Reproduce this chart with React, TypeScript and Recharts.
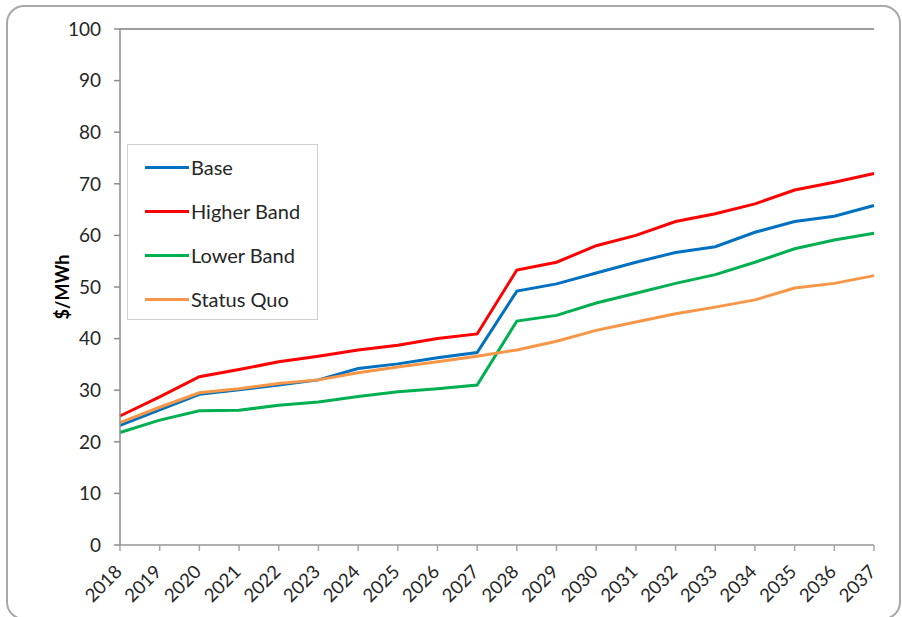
import React from 'react';
import {
  LineChart,
  Line,
  XAxis,
  YAxis,
  CartesianGrid,
  Legend,
  ReferenceLine,
} from 'recharts';

const years = [
  '2018', '2019', '2020', '2021', '2022', '2023', '2024', '2025', '2026', '2027',
  '2028', '2029', '2030', '2031', '2032', '2033', '2034', '2035', '2036', '2037',
];

const base = [
  23.2, 26.2, 29.2, 30.1, 31.0, 32.0, 34.2, 35.1, 36.3, 37.3,
  49.2, 50.6, 52.7, 54.8, 56.7, 57.8, 60.6, 62.7, 63.7, 65.8,
];
const higherBand = [
  25.0, 28.7, 32.6, 34.0, 35.5, 36.6, 37.8, 38.7, 40.0, 40.9,
  53.3, 54.8, 58.0, 60.0, 62.7, 64.2, 66.1, 68.8, 70.3, 72.0,
];
const lowerBand = [
  21.8, 24.2, 26.0, 26.1, 27.1, 27.7, 28.8, 29.7, 30.3, 31.0,
  43.4, 44.5, 46.9, 48.8, 50.7, 52.4, 54.8, 57.4, 59.1, 60.4,
];
const statusQuo = [
  23.7, 26.7, 29.5, 30.3, 31.3, 32.0, 33.4, 34.5, 35.5, 36.6,
  37.8, 39.5, 41.6, 43.2, 44.8, 46.1, 47.5, 49.8, 50.7, 52.2,
];

const yTicks = [0, 10, 20, 30, 40, 50, 60, 70, 80, 90, 100];

const seriesDefs = [
  { key: 'base', name: 'Base', color: '#0070C0' },
  { key: 'higher', name: 'Higher Band', color: '#FF0000' },
  { key: 'lower', name: 'Lower Band', color: '#00B050' },
  { key: 'status', name: 'Status Quo', color: '#F79646' },
];

const data = years.map((year, i) => ({
  year,
  base: base[i],
  higher: higherBand[i],
  lower: lowerBand[i],
  status: statusQuo[i],
}));

const FONT = 'Lato, "Open Sans", sans-serif';
const TEXT = '#262626';

function YearTick(props: any) {
  const { x, y, payload } = props;
  const ax = x + 3;
  const ay = y + 20;
  return (
    <text
      x={ax}
      y={ay}
      transform={`rotate(-45, ${ax}, ${ay})`}
      textAnchor="end"
      fontSize={18.5}
      fontFamily={FONT}
      fill={TEXT}
    >
      {payload.value}
    </text>
  );
}

function LegendBox() {
  return (
    <div
      style={{
        width: 191,
        height: 176,
        boxSizing: 'border-box',
        border: '1px solid #d0d0d0',
        background: '#ffffff',
      }}
    >
      {seriesDefs.map((s) => (
        <div
          key={s.key}
          style={{
            height: 44,
            display: 'flex',
            alignItems: 'center',
            paddingLeft: 17,
          }}
        >
          <div style={{ width: 44, height: 3, background: s.color, marginRight: 2 }} />
          <span style={{ fontFamily: FONT, fontSize: 20, color: TEXT, lineHeight: '22px' }}>
            {s.name}
          </span>
        </div>
      ))}
    </div>
  );
}

function AxisTitle(props: any) {
  const { viewBox } = props;
  const cx = 62;
  const cy = viewBox.y + viewBox.height / 2;
  return (
    <text
      x={cx}
      y={cy}
      transform={`rotate(-90, ${cx}, ${cy})`}
      textAnchor="middle"
      dominantBaseline="central"
      fontSize={18}
      fontWeight="bold"
      fontFamily={FONT}
      fill="#000"
    >
      $/MWh
    </text>
  );
}

export default function App() {
  return (
    <div
      style={{
        position: 'absolute',
        left: 0,
        top: 0,
        width: 902,
        height: 617,
        overflow: 'hidden',
        background: '#ffffff',
      }}
    >
      <div
        style={{
          position: 'absolute',
          left: 6,
          top: 5,
          width: 895,
          height: 615,
          boxSizing: 'border-box',
          border: '2px solid #a8a8a8',
          borderRadius: 18,
        }}
      />
      <div style={{ position: 'absolute', left: 0, top: 0 }}>
        <LineChart
          width={902}
          height={617}
          data={data}
          margin={{ top: 29, right: 28, bottom: 0, left: 0 }}
        >
          <CartesianGrid vertical={false} stroke="#bcbcbc" strokeWidth={1.5} />
          <XAxis
            dataKey="year"
            interval={0}
            height={72}
            tick={<YearTick />}
            tickSize={6}
            tickMargin={2}
            axisLine={{ stroke: '#a6a6a6', strokeWidth: 1.5 }}
            tickLine={{ stroke: '#a6a6a6', strokeWidth: 1.5 }}
          />
          <YAxis
            yAxisId="left"
            width={120}
            domain={[0, 100]}
            ticks={yTicks}
            interval={0}
            tickSize={6}
            tickMargin={13}
            tick={{ fontSize: 19, fontFamily: FONT, fill: TEXT }}
            axisLine={{ stroke: '#8c8c8c', strokeWidth: 1.5 }}
            tickLine={{ stroke: '#8c8c8c', strokeWidth: 1.5 }}
            label={<AxisTitle />}
          />
          <YAxis
            yAxisId="right"
            orientation="right"
            width={0}
            domain={[0, 100]}
            tick={false}
            tickLine={false}
            axisLine={{ stroke: '#8c8c8c', strokeWidth: 1.5 }}
          />
          <ReferenceLine yAxisId="left" y={100} stroke="#8c8c8c" strokeWidth={1.5} />
          {seriesDefs.map((s) => (
            <Line
              key={s.key}
              yAxisId="left"
              type="linear"
              dataKey={s.key}
              name={s.name}
              stroke={s.color}
              strokeWidth={3}
              dot={false}
              activeDot={false}
              isAnimationActive={false}
            />
          ))}
          <Legend
            layout="vertical"
            align="center"
            verticalAlign="middle"
            content={<LegendBox />}
            wrapperStyle={{ left: 127, top: 144, width: 191, height: 176 }}
          />
        </LineChart>
      </div>
    </div>
  );
}
